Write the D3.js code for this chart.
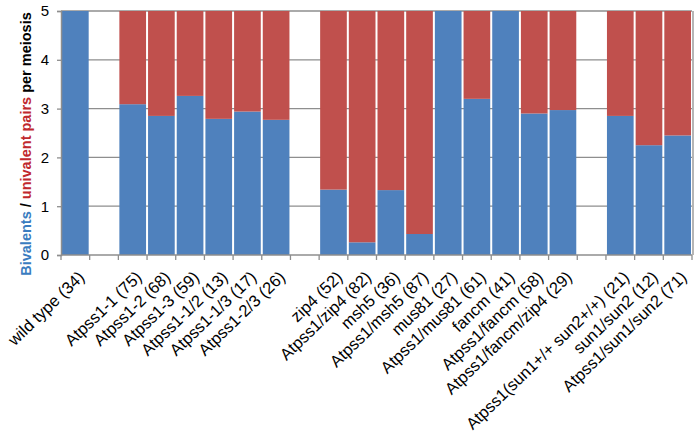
<!DOCTYPE html>
<html><head><meta charset="utf-8">
<script src="https://cdn.jsdelivr.net/npm/d3@7"></script>
<style>body{margin:0;background:#fff}</style>
</head><body>
<svg id="c" width="700" height="439"></svg>
<script>
const categories = ["wild type (34)", "", "Atpss1-1 (75)", "Atpss1-2 (68)", "Atpss1-3 (59)", "Atpss1-1/2 (13)", "Atpss1-1/3 (17)", "Atpss1-2/3 (26)", " ", "zip4 (52)", "Atpss1/zip4 (82)", "msh5 (36)", "Atpss1/msh5 (87)", "mus81 (27)", "Atpss1/mus81 (61)", "fancm (41)", "Atpss1/fancm (58)", "Atpss1/fancm/zip4 (29)", "  ", "Atpss1(sun1+/+ sun2+/+) (21)", "sun1/sun2 (12)", "Atpss1/sun1/sun2 (71)"];
const bivalents = [5, null, 3.09, 2.85, 3.26, 2.79, 2.94, 2.77, null, 1.34, 0.26, 1.33, 0.43, 5, 3.20, 5, 2.90, 2.97, null, 2.85, 2.25, 2.45];
const univalents = [0, null, 1.91, 2.15, 1.74, 2.21, 2.06, 2.23, null, 3.66, 4.74, 3.67, 4.57, 0, 1.80, 0, 2.10, 2.03, null, 2.15, 2.75, 2.55];
const yTicks = [0, 1, 2, 3, 4, 5];

const svg = d3.select("#c");
const mLeft = 61, mRight = 692, mTop = 11, mBottom = 255;
const x = d3.scaleBand().domain(categories).range([mLeft, mRight]).paddingInner(0.07).paddingOuter(0.035);
const y = d3.scaleLinear().domain([0, 5]).range([mBottom, mTop]);
const blue = "#4F81BD", red = "#C0504D", grid = "#8e8e8e";

// gridlines
svg.append("g").selectAll("line").data(yTicks.slice(1)).join("line")
  .attr("x1", mLeft).attr("x2", mRight).attr("y1", d => y(d)).attr("y2", d => y(d))
  .attr("stroke", grid).attr("stroke-width", 1.3);

const data = categories.map((c, i) => ({c, b: bivalents[i], u: univalents[i]})).filter(d => d.b !== null);
svg.append("g").selectAll("rect").data(data).join("rect")
  .attr("x", d => x(d.c)).attr("width", x.bandwidth())
  .attr("y", d => y(d.b)).attr("height", d => y(0) - y(d.b)).attr("fill", blue);
svg.append("g").selectAll("rect").data(data.filter(d => d.u > 0)).join("rect")
  .attr("x", d => x(d.c)).attr("width", x.bandwidth())
  .attr("y", d => y(d.b + d.u)).attr("height", d => y(d.b) - y(d.b + d.u)).attr("fill", red);

// right border
svg.append("line").attr("x1", mRight + 1).attr("x2", mRight + 1).attr("y1", mTop).attr("y2", mBottom)
  .attr("stroke", grid).attr("stroke-width", 1.3);

// y axis
const ya = svg.append("g").attr("transform", `translate(${mLeft},0)`)
  .call(d3.axisLeft(y).tickValues(yTicks).tickSize(4).tickPadding(8).tickFormat(d3.format("d")));
ya.select(".domain").attr("stroke", grid).attr("stroke-width", 1.5);
ya.selectAll(".tick line").attr("stroke", grid).attr("stroke-width", 1.3);
ya.selectAll("text").attr("font-family", "Liberation Sans, Arial, sans-serif").attr("font-size", 15).attr("fill", "#000");

// x axis with ticks at band boundaries
const bounds = categories.map((c, i) => mLeft + i * (mRight - mLeft) / categories.length).concat([mRight]);
svg.append("line").attr("x1", mLeft).attr("x2", mRight).attr("y1", mBottom).attr("y2", mBottom)
  .attr("stroke", grid).attr("stroke-width", 1.5);
svg.append("g").selectAll("line").data(bounds).join("line")
  .attr("x1", d => d).attr("x2", d => d).attr("y1", mBottom).attr("y2", mBottom + 5)
  .attr("stroke", grid).attr("stroke-width", 1.3);

svg.append("g").selectAll("text").data(categories.filter(c => c.trim() !== "")).join("text")
  .attr("transform", d => `translate(${x(d) + x.bandwidth() / 2 + 2},${mBottom + 15}) rotate(-44)`)
  .attr("text-anchor", "end").attr("dy", "0.7em")
  .attr("font-family", "Liberation Sans, Arial, sans-serif").attr("font-size", 16.5).attr("fill", "#000")
  .text(d => d);

// y title
const t = svg.append("text").attr("transform", "translate(31,144) rotate(-90)")
  .attr("text-anchor", "middle").attr("font-family", "Liberation Sans, Arial, sans-serif")
  .attr("font-size", 14.5).attr("font-weight", "bold");
t.append("tspan").attr("fill", "#3a7cc0").text("Bivalents");
t.append("tspan").attr("fill", "#000").text(" / ");
t.append("tspan").attr("fill", "#c0282d").text("univalent pairs");
t.append("tspan").attr("fill", "#000").text(" per meiosis");
</script>
</body></html>
